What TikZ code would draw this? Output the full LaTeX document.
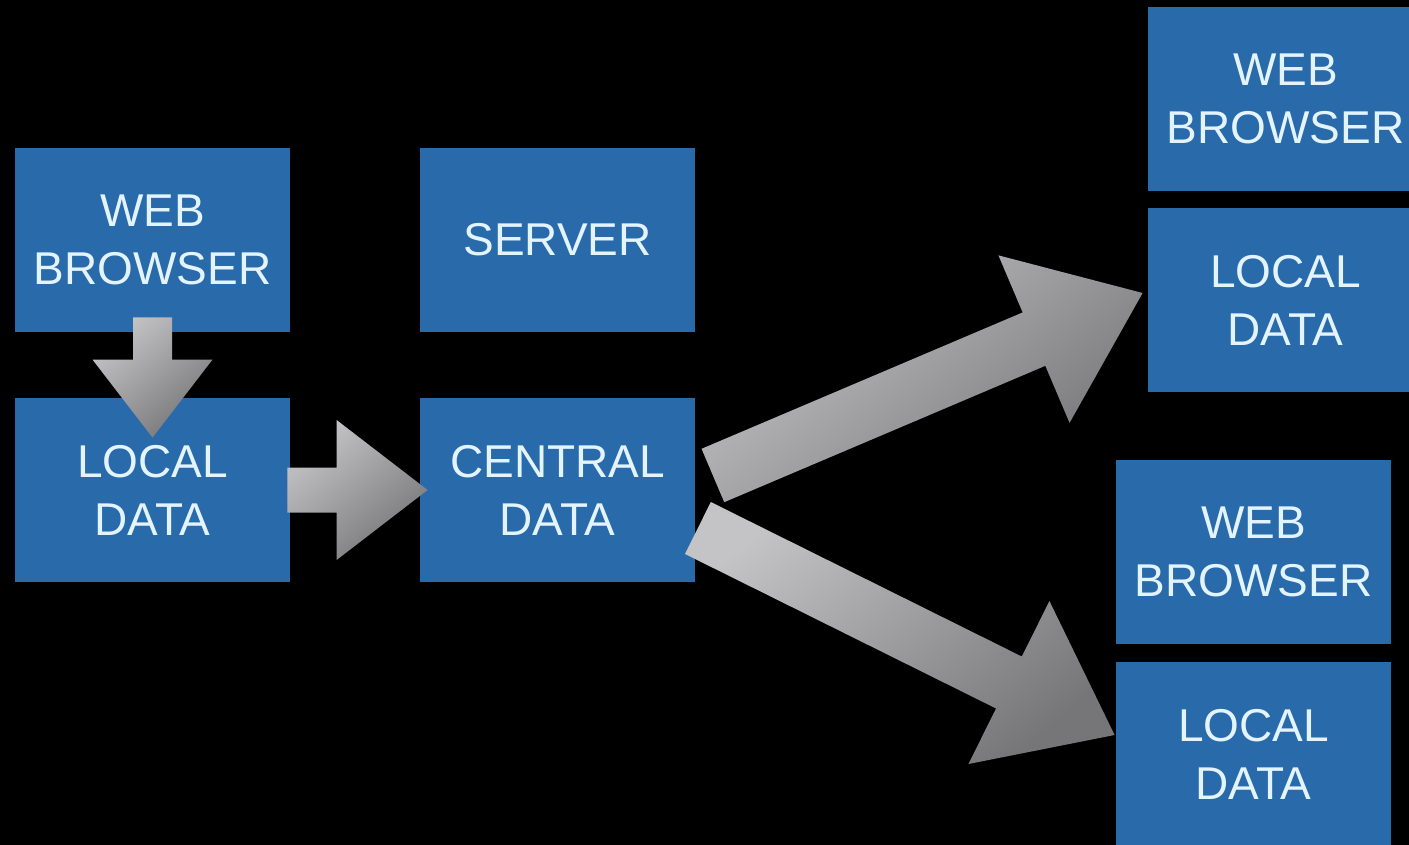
\documentclass[tikz,border=0pt]{standalone}
\usepackage{fontspec}
\setmainfont{Liberation Sans}
\usetikzlibrary{calc}
\definecolor{boxblue}{RGB}{40,106,170}
\definecolor{txtcol}{RGB}{228,244,255}
\definecolor{arlight}{RGB}{196,196,199}
\definecolor{armid}{RGB}{172,172,175}
\definecolor{ardark}{RGB}{118,118,121}
\tikzset{
  box/.style={fill=boxblue, draw=none, minimum width=137.5pt, minimum height=92pt,
    inner sep=0pt, text=txtcol, align=center, font=\fontsize{23}{29}\selectfont},
  arrowfill/.style={top color=arlight, middle color=armid, bottom color=ardark,
    shading angle=40, draw=none}
}
\newcommand\blockarr[5]{%
  \path ($(#2)!#5!(#1)$) coordinate (hh);
  \path[arrowfill] ($(#1)!#3!90:(#2)$) -- ($(hh)!#3!90:(#2)$) -- ($(hh)!#4!90:(#2)$)
    -- (#2) -- ($(hh)!#4!-90:(#2)$) -- ($(hh)!#3!-90:(#2)$) -- ($(#1)!#3!-90:(#2)$) -- cycle;
}
\begin{document}
\begin{tikzpicture}[x=0.5pt,y=-0.5pt]
\fill[black] (0,0) rectangle (1409,845);
\useasboundingbox (0,0) rectangle (1409,845);
\clip (0,0) rectangle (1409,845);
% boxes
\node[box] (wb1) at (152.5,240) {WEB\\BROWSER};
\node[box] (ld1) at (152.5,490) {LOCAL\\DATA};
\node[box] (srv) at (557.5,240) {SERVER};
\node[box] (cd)  at (557.5,490) {CENTRAL\\DATA};
\node[box] (wb2) at (1285.5,99) {WEB\\BROWSER};
\node[box] (ld2) at (1285.5,300) {LOCAL\\DATA};
\node[box] (wb3) at (1253.5,551.5) {WEB\\BROWSER};
\node[box] (ld3) at (1253.5,754) {LOCAL\\DATA};
% arrow end points
\coordinate (a1t) at ($(wb1.south)+(0,-15)$);
\coordinate (a1h) at ($(ld1.north)+(0,40)$);
\coordinate (a2t) at ($(ld1.east)+(-3,0)$);
\coordinate (a2h) at ($(cd.west)+(8,0)$);
\coordinate (a3t) at ($(cd.east)+(17.5,-14.5)$);
\coordinate (a3h) at ($(ld2.west)+(-5,-7)$);
\coordinate (a4t) at ($(cd.east)+(2.5,38)$);
\coordinate (a4h) at ($(ld3.west)+(-1,-19)$);
% block arrows
\blockarr{a1t}{a1h}{9.75pt}{30pt}{39pt}
\blockarr{a2t}{a2h}{11.25pt}{35pt}{45.5pt}
\blockarr{a3t}{a3h}{14.5pt}{45.5pt}{59pt}
\blockarr{a4t}{a4h}{14.5pt}{45.5pt}{59pt}
\end{tikzpicture}
\end{document}
